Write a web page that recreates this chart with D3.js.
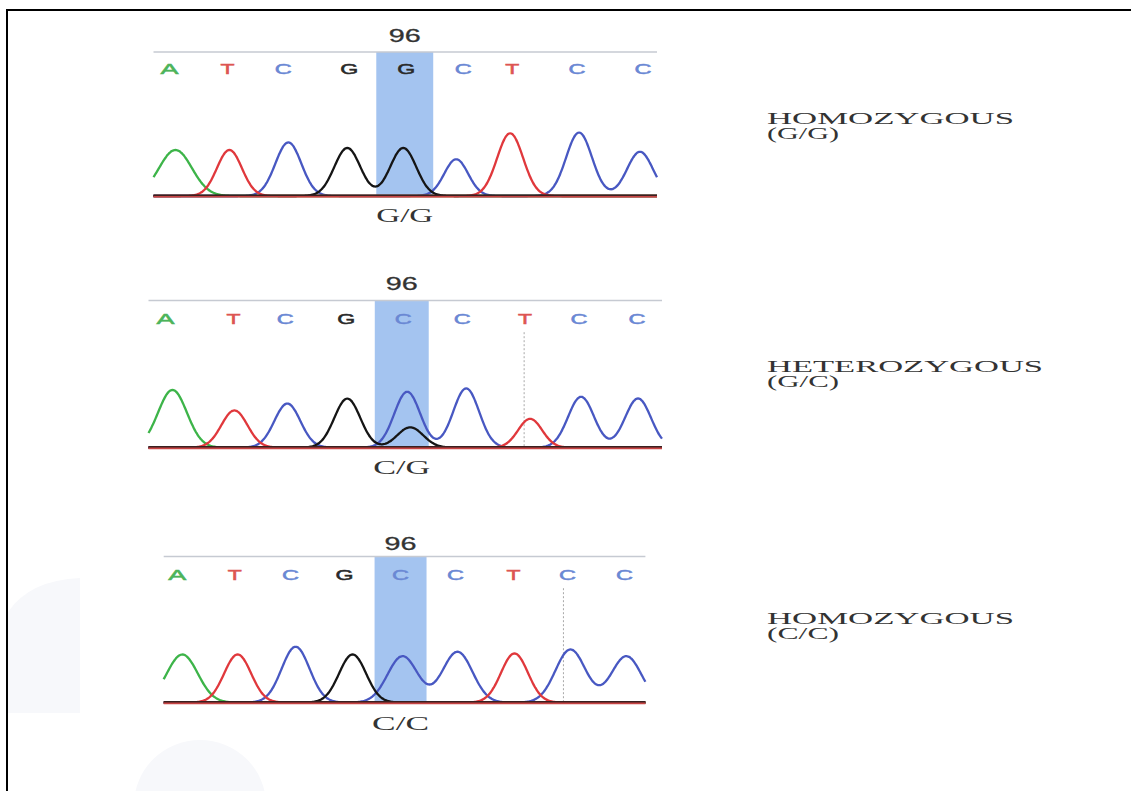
<!DOCTYPE html>
<html>
<head>
<meta charset="utf-8">
<script src="https://cdn.jsdelivr.net/npm/d3@7"></script>
<style>
  html, body { margin: 0; padding: 0; background: #fff; }
  svg { display: block; }
</style>
</head>
<body>
<svg id="chart" width="1132" height="791"></svg>
<script>
// ---------------- DATA ----------------
const positionLabel = ["96", "96", "96"];
const genotypeCall = ["G/G", "C/G", "C/C"];
const zygosity = ["HOMOZYGOUS", "HETEROZYGOUS", "HOMOZYGOUS"];
const alleles = ["(G/G)", "(G/C)", "(C/C)"];

// base calls per panel and their scan positions
const calls = [
  ["A", "T", "C", "G", "G", "C", "T", "C", "C"],
  ["A", "T", "C", "G", "C", "C", "T", "C", "C"],
  ["A", "T", "C", "G", "C", "C", "T", "C", "C"]
];
const callScan = [
  [16, 74, 130, 196, 253, 310, 359, 424, 490],
  [17, 85, 137, 198, 255, 314, 377, 431, 489],
  [13.5, 71, 127, 181, 237, 292, 350, 404, 461]
];
const scanExtent = [504, 514, 482];
const highlightScan = [[223, 280], [226.5, 280.5], [211, 263]];
const markerScan = [null, 376, 400];

// peaks per channel per panel: [scan position, amplitude, width]
const peaksA = [
  [[22, 46, 16.5]],
  [[24, 57.6, 14.5]],
  [[18.6, 48.1, 15.5]]
];
const peaksT = [
  [[76, 46, 12.5], [357, 62.7, 13]],
  [[86, 37.2, 13], [382, 28.8, 12]],
  [[74, 48.1, 13.5], [351, 49.1, 13.5]]
];
const peaksC = [
  [[135, 53.6, 13], [303, 36.7, 12], [426, 63.4, 13], [487, 44.2, 13]],
  [[139, 44, 13], [259, 55.8, 13], [318, 59.2, 13], [433, 50.8, 13], [490, 49.1, 13]],
  [[132, 55.8, 14], [239, 46.4, 15], [294, 50.8, 15], [407, 53.1, 15], [463, 46.4, 15]]
];
const peaksG = [
  [[194, 48, 13], [250, 48, 13]],
  [[199, 49, 13], [262, 20.3, 13]],
  [[189, 48.1, 13.5]]
];

// ---------------- LAYOUT / STYLE ----------------
const layout = [
  { left: 153.5, right: 657, top: 52, base: 196, numY: 42, callY: 74, genoY: 222.2, labY: [123.5, 139] },
  { left: 148.5, right: 662, top: 300.5, base: 447.6, numY: 290.4, callY: 324.2, genoY: 474, labY: [371.5, 387] },
  { left: 163.7, right: 645.4, top: 556.5, base: 702.6, numY: 549.7, callY: 580.2, genoY: 729.6, labY: [623.5, 639] }
];
const traceColor = { A: "#3db449", T: "#e0383c", C: "#4858c2", G: "#151515" };
const callColor = { A: "#4cb45a", T: "#dd5552", C: "#6a88d4", G: "#2a2a2a" };
const callWidth = { A: 18, T: 14, C: 17, G: 18 };
const zygWidth = { HOMOZYGOUS: 247, HETEROZYGOUS: 276 };

const svg = d3.select("#chart");

// faint watermark shapes
svg.append("path")
  .attr("d", "M8,612 Q30,580 80,578 L80,713 L8,713 Z")
  .attr("fill", "#f7f8fb");
svg.append("ellipse")
  .attr("cx", 200).attr("cy", 805).attr("rx", 66).attr("ry", 65)
  .attr("fill", "#f7f8fb");

// frame lines
svg.append("line").attr("x1", 6).attr("x2", 1131).attr("y1", 10).attr("y2", 10)
  .attr("stroke", "#000").attr("stroke-width", 2);
svg.append("line").attr("x1", 7).attr("x2", 7).attr("y1", 9).attr("y2", 791)
  .attr("stroke", "#000").attr("stroke-width", 2);

function signal(peaks, s) {
  let v = 0;
  for (const [p, a, w] of peaks) v += a * Math.exp(-((s - p) * (s - p)) / (2 * w * w));
  return v;
}

layout.forEach((L, i) => {
  const x = d3.scaleLinear().domain([0, scanExtent[i]]).range([L.left, L.right]);
  const y = d3.scaleLinear().domain([0, 150]).range([L.base, L.base - 150]);
  const g = svg.append("g");

  // highlight
  const [h0, h1] = highlightScan[i];
  g.append("rect")
    .attr("x", x(h0)).attr("y", L.top)
    .attr("width", x(h1) - x(h0)).attr("height", L.base - L.top)
    .attr("fill", "#a4c4f0");

  // top line
  g.append("line").attr("x1", L.left).attr("x2", L.right)
    .attr("y1", L.top).attr("y2", L.top)
    .attr("stroke", "#c6cad2").attr("stroke-width", 1.6);

  // position label
  const hc = (x(h0) + x(h1)) / 2;
  g.append("text").text(positionLabel[i])
    .attr("x", hc - 16).attr("y", L.numY)
    .attr("textLength", 32).attr("lengthAdjust", "spacingAndGlyphs")
    .attr("font-family", "Liberation Sans, Arial, sans-serif")
    .attr("font-size", 18).attr("fill", "#333")
    .attr("stroke", "#333").attr("stroke-width", 0.3);

  // base calls
  calls[i].forEach((b, k) => {
    const w = callWidth[b];
    g.append("text").text(b)
      .attr("x", x(callScan[i][k]) - w / 2).attr("y", L.callY)
      .attr("textLength", w).attr("lengthAdjust", "spacingAndGlyphs")
      .attr("font-family", "Liberation Sans, Arial, sans-serif")
      .attr("font-size", 14).attr("fill", callColor[b])
      .attr("stroke", callColor[b]).attr("stroke-width", 0.5);
  });

  // marker dashed line
  if (markerScan[i] !== null) {
    g.append("line").attr("x1", x(markerScan[i])).attr("x2", x(markerScan[i]))
      .attr("y1", L.callY + 8).attr("y2", L.base)
      .attr("stroke", "#a8a8a8").attr("stroke-width", 1).attr("stroke-dasharray", "2,2");
  }

  // traces
  const scans = d3.range(0, scanExtent[i] + 0.01, 1);
  const line = d3.line().x(d => x(d[0])).y(d => y(d[1])).curve(d3.curveMonotoneX);
  const channels = [["C", peaksC[i]], ["A", peaksA[i]], ["T", peaksT[i]], ["G", peaksG[i]]];
  channels.forEach(([ch, pk]) => {
    const pts = scans.map(s => [s, signal(pk, s)]);
    g.append("path").attr("d", line(pts))
      .attr("fill", "none").attr("stroke", traceColor[ch])
      .attr("stroke-width", 2.3).attr("stroke-linejoin", "round");
  });

  // baseline (red over dark)
  g.append("line").attr("x1", L.left).attr("x2", L.right)
    .attr("y1", L.base - 0.6).attr("y2", L.base - 0.6)
    .attr("stroke", "#3a2020").attr("stroke-width", 2);
  g.append("line").attr("x1", L.left).attr("x2", L.right)
    .attr("y1", L.base + 0.8).attr("y2", L.base + 0.8)
    .attr("stroke", "#c84444").attr("stroke-width", 1.6);

  // genotype call under the highlight
  g.append("text").text(genotypeCall[i])
    .attr("x", hc - 28.5).attr("y", L.genoY)
    .attr("textLength", 57).attr("lengthAdjust", "spacingAndGlyphs")
    .attr("font-family", "Liberation Serif, Times New Roman, serif")
    .attr("font-size", 18).attr("fill", "#333");

  // right labels
  g.append("text").text(zygosity[i])
    .attr("x", 767).attr("y", L.labY[0])
    .attr("textLength", zygWidth[zygosity[i]]).attr("lengthAdjust", "spacingAndGlyphs")
    .attr("font-family", "Liberation Serif, Times New Roman, serif")
    .attr("font-size", 16).attr("fill", "#333");
  g.append("text").text(alleles[i])
    .attr("x", 767).attr("y", L.labY[1])
    .attr("textLength", 72).attr("lengthAdjust", "spacingAndGlyphs")
    .attr("font-family", "Liberation Serif, Times New Roman, serif")
    .attr("font-size", 16).attr("fill", "#333");
});
</script>
</body>
</html>
